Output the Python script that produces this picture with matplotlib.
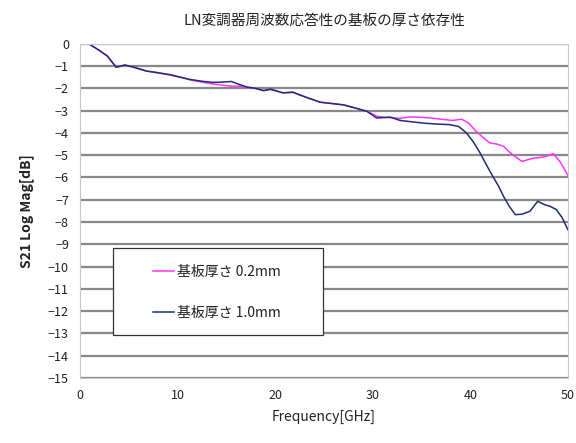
import matplotlib
matplotlib.use("Agg")
import matplotlib.pyplot as plt
from matplotlib.patches import Rectangle

plt.rcParams['font.family'] = ['Noto Sans CJK JP', 'DejaVu Sans']

title = "LN変調器周波数応答性の基板の厚さ依存性"
label_02 = "基板厚さ 0.2mm"
label_10 = "基板厚さ 1.0mm"

freq_02 = [0.9, 2.0, 2.8, 3.7, 4.6, 5.5, 6.8, 8.0, 9.2, 10.3, 11.3, 12.5, 13.6, 14.5, 15.5,
           16.3, 17.1, 18.0, 18.8, 19.5, 20.8, 21.8, 22.5, 23.5, 24.6, 25.8, 27.0, 28.2, 29.4,
           30.4, 31.2, 32.0, 32.8, 33.8, 35.0, 36.0, 36.9, 38.2, 39.1, 39.8, 40.6, 41.3, 42.0,
           42.7, 43.4, 44.1, 44.7, 45.3, 45.9, 46.5, 47.2, 47.8, 48.5, 49.2, 50.0]
s21_02 = [0.0, -0.3, -0.55, -1.05, -0.95, -1.05, -1.22, -1.3, -1.4, -1.5, -1.62, -1.72, -1.8, -1.85, -1.9,
          -1.9, -1.95, -2.0, -2.1, -2.05, -2.2, -2.18, -2.29, -2.45, -2.62, -2.68, -2.74, -2.88, -3.03,
          -3.25, -3.3, -3.32, -3.35, -3.28, -3.3, -3.33, -3.38, -3.44, -3.38, -3.55, -3.93, -4.2, -4.45,
          -4.5, -4.6, -4.9, -5.1, -5.28, -5.2, -5.13, -5.1, -5.05, -4.93, -5.3, -5.9]

freq_10 = [0.9, 2.0, 2.8, 3.7, 4.6, 5.5, 6.8, 8.0, 9.2, 10.3, 11.3, 12.5, 13.6, 14.5, 15.5,
           16.3, 17.1, 18.0, 18.8, 19.5, 20.8, 21.8, 22.5, 23.5, 24.6, 25.8, 27.0, 28.2, 29.4,
           30.4, 31.8, 32.8, 34.0, 35.2, 36.5, 37.9, 38.8, 39.6, 40.3, 41.0, 41.6, 42.3, 42.9,
           43.4, 44.0, 44.6, 45.3, 46.1, 46.9, 47.6, 48.2, 48.8, 49.4, 50.0]
s21_10 = [0.0, -0.3, -0.55, -1.05, -0.95, -1.05, -1.22, -1.3, -1.38, -1.5, -1.6, -1.68, -1.73, -1.72, -1.69,
          -1.82, -1.94, -2.0, -2.1, -2.03, -2.2, -2.17, -2.29, -2.45, -2.62, -2.68, -2.74, -2.88, -3.03,
          -3.33, -3.29, -3.44, -3.5, -3.56, -3.6, -3.63, -3.71, -4.0, -4.4, -4.9, -5.4, -5.95, -6.4,
          -6.85, -7.3, -7.67, -7.65, -7.52, -7.07, -7.22, -7.3, -7.44, -7.8, -8.35]

fig = plt.figure(figsize=(5.76, 4.43), dpi=100)
ax = fig.add_axes([0.139, 0.147, 0.847, 0.754])

ax.plot(freq_02, s21_02, color="#ff33ff", lw=1.1, label=label_02)
ax.plot(freq_10, s21_10, color="#1f2f6f", lw=1.1, label=label_10)

ax.set_xlim(0, 50)
ax.set_ylim(-15, 0)
ax.set_xticks(range(0, 51, 10))
ax.set_yticks(range(-15, 1))
ax.yaxis.grid(True, color="#888888", lw=1.6)
ax.set_axisbelow(True)
for side in ax.spines.values():
    side.set_color("#c8c8c8")
ax.tick_params(length=0, labelsize=9, colors="#222222", pad=8)

ax.set_title(title, fontsize=10.5, color="#222222", pad=14)
ax.set_xlabel("Frequency[GHz]", fontsize=10, color="#222222", labelpad=6)
ax.set_ylabel("S21 Log Mag[dB]", fontsize=10, color="#222222", fontweight="bold", labelpad=10)

# legend box drawn separately so it can be wider than its content
box = Rectangle((0.068, 0.129), 0.43, 0.26, transform=ax.transAxes,
                facecolor="white", edgecolor="#333333", lw=0.9, zorder=3)
ax.add_patch(box)
leg = ax.legend(loc="center", bbox_to_anchor=(0.281, 0.257), fontsize=10,
                frameon=False, handlelength=1.5, handletextpad=0.2,
                labelspacing=1.95, borderaxespad=0)
leg.set_zorder(4)
for text in leg.get_texts():
    text.set_color("#222222")

fig.savefig("out.png", dpi=100)
